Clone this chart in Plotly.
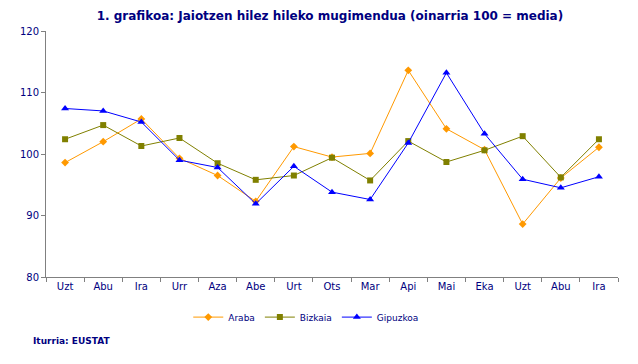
import plotly.graph_objects as go

months = ["Uzt", "Abu", "Ira", "Urr", "Aza", "Abe", "Urt", "Ots", "Mar", "Api", "Mai", "Eka", "Uzt ", "Abu ", "Ira "]
month_labels = ["Uzt", "Abu", "Ira", "Urr", "Aza", "Abe", "Urt", "Ots", "Mar", "Api", "Mai", "Eka", "Uzt", "Abu", "Ira"]

araba = [98.6, 102.0, 105.7, 99.3, 96.5, 92.3, 101.2, 99.5, 100.1, 113.6, 104.1, 100.7, 88.6, 96.1, 101.1]
bizkaia = [102.4, 104.7, 101.3, 102.6, 98.5, 95.8, 96.5, 99.4, 95.7, 102.1, 98.7, 100.6, 102.9, 96.2, 102.4]
gipuzkoa = [107.4, 107.0, 105.2, 99.0, 97.8, 91.9, 98.0, 93.8, 92.6, 101.8, 113.2, 103.3, 95.9, 94.5, 96.3]

NAVY = "#000080"
FONT = "DejaVu Sans"

fig = go.Figure()
fig.add_trace(go.Scatter(x=months, y=araba, name="Araba", mode="lines+markers",
                         line=dict(color="#FF9900", width=1),
                         marker=dict(symbol="diamond", size=6, color="#FF9900")))
fig.add_trace(go.Scatter(x=months, y=bizkaia, name="Bizkaia", mode="lines+markers",
                         line=dict(color="#808000", width=1),
                         marker=dict(symbol="square", size=6, color="#808000")))
fig.add_trace(go.Scatter(x=months, y=gipuzkoa, name="Gipuzkoa", mode="lines+markers",
                         line=dict(color="#0000FF", width=1),
                         marker=dict(symbol="triangle-up", size=7, color="#0000FF")))

# The page body has an 8px default margin, so the figure is sized to fit the window.
fig.update_layout(
    width=630, height=356,
    margin=dict(l=27, r=20, t=23, b=87),
    paper_bgcolor="white", plot_bgcolor="white",
    font=dict(family=FONT, size=10, color=NAVY),
    title=dict(text="<b>1. grafikoa: Jaiotzen hilez hileko mugimendua (oinarria 100 = media)</b>",
               x=0.511, xanchor="center", y=1 - 8 / 356, yanchor="middle", yref="container",
               font=dict(family=FONT, size=12, color=NAVY)),
    showlegend=True,
    legend=dict(orientation="h", x=0.455, xanchor="center", y=-0.163, yanchor="middle",
                font=dict(family=FONT, size=9, color=NAVY), itemwidth=30,
                bgcolor="rgba(0,0,0,0)"),
    annotations=[dict(text="<b>Iturria: EUSTAT</b>", xref="paper", yref="paper",
                      x=-0.0257, xanchor="left", y=-0.26, yanchor="middle", showarrow=False,
                      font=dict(family=FONT, size=9, color=NAVY))],
)
fig.update_xaxes(type="category", range=[-0.5, 14.5], tickmode="array", tickvals=months,
                 ticktext=month_labels, tickson="boundaries", ticks="outside", ticklen=4,
                 tickcolor="#808080", showline=True, linecolor="#808080", linewidth=1,
                 showgrid=False, zeroline=False, tickfont=dict(size=10, color=NAVY))
fig.update_yaxes(range=[80, 120], dtick=10, ticks="outside", ticklen=4, tickcolor="#808080",
                 showline=True, linecolor="#808080", linewidth=1, showgrid=False,
                 zeroline=False, tickfont=dict(size=10, color=NAVY))

fig.write_html("out.html")
